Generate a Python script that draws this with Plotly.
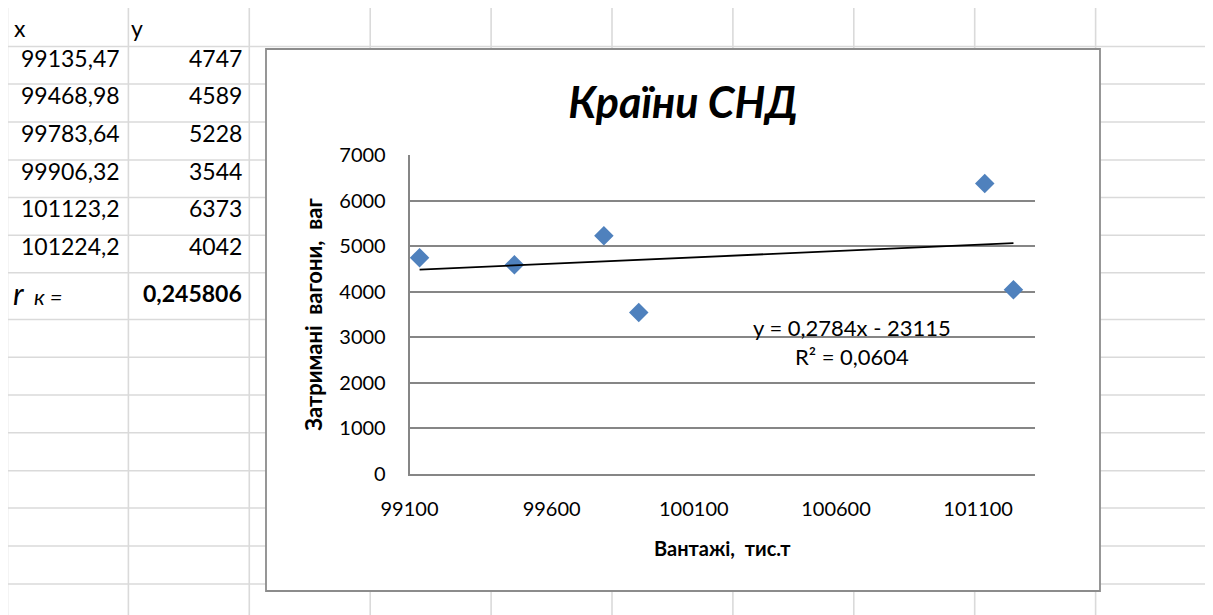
import plotly.graph_objects as go

# ---------------- data ----------------
x_vals = [99135.47, 99468.98, 99783.64, 99906.32, 101123.2, 101224.2]
y_vals = [4747, 4589, 5228, 3544, 6373, 4042]
r_k = 0.245806
trend_slope = 0.2784
trend_intercept = -23115
r_squared = 0.0604
x_tick_vals = [99100, 99600, 100100, 100600, 101100]
x_tick_labels = ["99100", "99600", "100100", "100600", "101100"]
y_tick_vals = [0, 1000, 2000, 3000, 4000, 5000, 6000, 7000]
y_tick_labels = ["0", "1000", "2000", "3000", "4000", "5000", "6000", "7000"]
title_text = "Країни СНД"
x_title = "Вантажі, \u00a0тис.т"
y_title = "Затримані \u00a0вагони, \u00a0ваг"

# page has an 8px body margin: the figure is sized to fill the rest of the window
OFF = 8
SW, SH = 1213, 615
W, H = SW - OFF, SH - OFF
FONT = "Lato, 'Open Sans', sans-serif"


def px(x):
    return (x - OFF) / W


def py(y):
    return 1 - (y - OFF) / H


def fmt(v):
    return str(v).replace(".", ",")


fig = go.Figure()

fig.add_trace(go.Scatter(
    x=x_vals, y=y_vals, mode="markers",
    marker=dict(symbol="diamond", size=15, color="#4F81BD", line=dict(width=0)),
    hoverinfo="skip", showlegend=False))

x_lo, x_hi = min(x_vals), max(x_vals)
fig.add_trace(go.Scatter(
    x=[x_lo, x_hi],
    y=[trend_slope * x_lo + trend_intercept, trend_slope * x_hi + trend_intercept],
    mode="lines", line=dict(color="black", width=1.8),
    hoverinfo="skip", showlegend=False))

# ---------------- spreadsheet grid ----------------
shapes = []
grid_col = "#dadada"
col_lines = [7.5 + 120.9 * i for i in range(10)]
row_lines = [7, 46.5, 84, 122, 160, 197.5, 235.3, 272.7, 319.5, 357.3, 395,
             432.7, 470.7, 508, 546, 584]
for cx in col_lines:
    shapes.append(dict(type="line", xref="paper", yref="paper", layer="below",
                       x0=px(cx), x1=px(cx), y0=py(7), y1=py(SH),
                       line=dict(color=grid_col, width=1.6)))
for ry in row_lines:
    shapes.append(dict(type="line", xref="paper", yref="paper", layer="below",
                       x0=px(7.5), x1=px(SW), y0=py(ry), y1=py(ry),
                       line=dict(color=grid_col, width=1.6)))
# chart area box
shapes.append(dict(type="rect", xref="paper", yref="paper", layer="below",
                   x0=px(266), x1=px(1100), y0=py(591), y1=py(49),
                   fillcolor="white", line=dict(color="#8c8c8c", width=1.8)))

# ---------------- table text ----------------
ann = []
TF = 23
def cell(text, x, baseline, anchor, size=TF, bold=False):
    t = f"<b>{text}</b>" if bold else text
    ann.append(dict(text=t, xref="paper", yref="paper", x=px(x),
                    y=py(baseline - 0.387 * size), xanchor=anchor, yanchor="middle",
                    showarrow=False, font=dict(family=FONT, size=size, color="black")))

cell("x", 12, 36.7, "left")
cell("y", 129, 36.7, "left")
baselines = [66.7, 104, 142, 180, 217.3, 255.3]
for xv, yv, b in zip(x_vals, y_vals, baselines):
    cell(fmt(xv), 122, b, "right")
    cell(fmt(yv), 243.5, b, "right")
cell(fmt(r_k), 243.5, 301.7, "right", bold=True)
ann.append(dict(text="<i><span style='font-size:31px'>r</span> \u00a0к =</i>",
                xref="paper", yref="paper", x=px(11), y=py(293), xanchor="left",
                yanchor="middle", showarrow=False,
                font=dict(family=FONT, size=22, color="black")))

# trendline label
ann.append(dict(text=f"y = {fmt(trend_slope)}x - {abs(trend_intercept)}<br>R² = {fmt(r_squared)}",
                xref="paper", yref="paper", x=px(852), y=py(342), xanchor="center",
                yanchor="middle", align="center", showarrow=False,
                font=dict(family=FONT, size=22, color="black")))

fig.update_layout(
    width=W, height=H, autosize=False,
    margin=dict(l=0, r=0, t=0, b=0, pad=0),
    paper_bgcolor="white", plot_bgcolor="rgba(0,0,0,0)",
    showlegend=False,
    shapes=shapes, annotations=ann,
    title=dict(text=f"<b><i>{title_text}</i></b>", x=px(683), xanchor="center",
               y=py(103), yanchor="middle", yref="paper", automargin=False,
               font=dict(family=FONT, size=43, color="black")),
    xaxis=dict(domain=[px(409.5), px(1035)], range=[99100, 101300],
               tickvals=x_tick_vals, ticktext=x_tick_labels, automargin=False,
               showgrid=False, zeroline=False, showline=True,
               linecolor="#868686", linewidth=1.6, ticks="",
               ticklabelstandoff=16,
               tickfont=dict(family=FONT, size=20, color="black"),
               title=dict(text=f"<b>{x_title}</b>", standoff=23,
                          font=dict(family=FONT, size=20, color="black"))),
    yaxis=dict(domain=[py(474), py(155)], range=[0, 7000],
               tickvals=y_tick_vals, ticktext=y_tick_labels, automargin=False,
               showgrid=True, gridcolor="#868686", gridwidth=1.6,
               zeroline=False, showline=True,
               linecolor="#868686", linewidth=1.6, ticks="",
               ticklabelstandoff=18,
               tickfont=dict(family=FONT, size=20, color="black"),
               title=dict(text=f"<b>{y_title}</b>", standoff=11,
                          font=dict(family=FONT, size=22, color="black"))),
)

fig.write_html("out.html")
